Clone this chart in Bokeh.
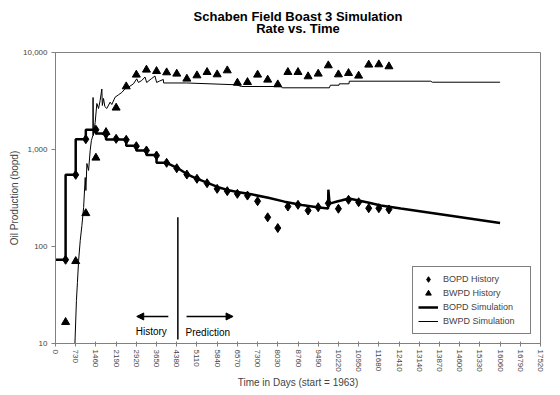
import math
from bokeh.plotting import figure
from bokeh.models import (FixedTicker, NumeralTickFormatter, Legend, LegendItem,
                          Label, Arrow, NormalHead, ColumnDataSource)
from bokeh.core.properties import value
from bokeh.embed import file_html
from bokeh.resources import INLINE

# ---------------- data ----------------
hist_days = [365, 730, 1095, 1460, 1825, 2190, 2555, 2920, 3285, 3650, 4015,
             4380, 4745, 5110, 5475, 5840, 6205, 6570, 6935, 7300, 7665, 8030,
             8395, 8760, 9125, 9490, 9855, 10220, 10585, 10950, 11315, 11680, 12045]
bopd_hist = [73, 548, 1277, 1596, 1440, 1288, 1259, 1082, 977, 867, 729,
             641, 552, 499, 449, 393, 372, 349, 335, 293, 200, 155,
             258, 269, 235, 254, 279, 245, 303, 286, 248, 248, 241]
bwpd_hist = [16.6, 70.5, 220, 821, 1507, 2692, 4460, 5890, 6630, 6410, 6220,
             6030, 5355, 5790, 6270, 5930, 6520, 4865, 4940, 5890, 5230, 4677,
             6270, 6270, 5660, 6030, 7345, 5930, 6120, 5750, 7470, 7525, 7175]

bopd_sim_days = [0, 365, 365, 730, 730, 1095, 1095, 1460, 1460, 1825, 1825, 2555,
                 2555, 2920, 2920, 3285, 3285, 3650, 3650, 4015, 4410, 4770, 5130,
                 5490, 5875, 6210, 6570, 7074, 7686, 8273, 8900, 9450, 9846, 9857,
                 9900, 10170, 10314, 10602, 11286, 11754, 12474, 14274, 16060]
bopd_sim = [73, 73, 548, 548, 1277, 1277, 1596, 1596, 1462, 1462, 1270, 1270,
            1096, 1096, 977, 977, 880, 880, 730, 730, 644, 552, 497,
            452, 409, 382, 365, 345, 318, 290, 268, 254, 247, 385,
            277, 291, 298, 313, 284, 265, 247, 208, 175]

bwpd_sim_days = [702, 756, 792, 835, 893, 954, 1015, 1073, 1098, 1134, 1195, 1253,
                 1296, 1350, 1357, 1368, 1433, 1494, 1555, 1613, 1674, 1692, 1735,
                 1782, 1854, 1973, 2034, 2153, 2275, 2394, 2513, 2635, 2815, 2934,
                 2995, 3114, 3233, 3294, 3474, 3593, 3654, 3762, 3895, 3906, 4734,
                 6534, 6714, 8154, 8190, 9893, 9929, 10242, 10253, 10602, 10613,
                 13554, 13615, 16060]
bwpd_sim = [10, 27.7, 42.5, 71.8, 115, 165, 252, 514, 378, 717, 608, 977,
            1238, 1394, 3436, 1394, 1897, 2980, 2648, 3200, 4205, 2844, 3357,
            2775, 2648, 3076, 2911, 3460, 3664, 3870, 4227, 4389, 4755, 5355,
            4909, 5142, 5590, 4909, 5395, 5724, 4909, 5085, 5270, 4851, 4851,
            4646, 4460, 4460, 4325, 4325, 4600, 4600, 4755, 4755, 5060,
            5060, 4940, 4940]

x_ticks = [0, 730, 1460, 2190, 2920, 3650, 4380, 5110, 5840, 6570, 7300, 8030,
           8760, 9490, 10220, 10950, 11680, 12410, 13140, 13870, 14600, 15330,
           16060, 16790, 17520]
y_ticks = [10, 100, 1000, 10000]

# history / prediction marker
divider_x = [4420]
divider_y0 = [11]
divider_y1 = [200]
arrow_x_start = [4075, 4734]
arrow_x_end = [2934, 6415]
arrow_y = [19, 19]
note_x = [2898, 4698]
note_y = [13.3, 13.0]
note_text = ["History", "Prediction"]

title_lines = ["Schaben Field Boast 3 Simulation", "Rate vs. Time"]

# ---------------- figure ----------------
FONT = "Liberation Sans"
GREY = "#808080"
X_MIN, X_MAX = 0, 17520
Y_MIN, Y_MAX = 10, 10000

p = figure(width=560, height=395, y_axis_type="log",
           x_range=(X_MIN, X_MAX), y_range=(Y_MIN, Y_MAX),
           output_backend="svg", toolbar_location=None,
           min_border_left=55, min_border_right=20,
           min_border_top=52, min_border_bottom=52)
p.xgrid.visible = False
p.ygrid.visible = False
p.outline_line_color = GREY
p.outline_line_width = 1
p.background_fill_color = "white"
p.border_fill_color = "white"

# two-line title, centred over the plot area (drawn in the top border panel)
x_mid = (X_MIN + X_MAX) / 2
decade_px = (395 - 52 - 52) / 3.0
for line, px_above in zip(title_lines, [36, 24]):
    p.add_layout(Label(x=x_mid, y=Y_MAX * 10 ** (px_above / decade_px),
                       text=line, text_align="center", text_baseline="middle",
                       text_font=FONT, text_font_size="13px",
                       text_font_style="bold", text_color="black"), "above")

xa = p.xaxis[0]
xa.ticker = FixedTicker(ticks=x_ticks, minor_ticks=[])
xa.major_label_orientation = -math.pi / 2
xa.major_label_text_font = FONT
xa.major_label_text_font_size = "8px"
xa.major_label_standoff = 3
xa.axis_line_color = GREY
xa.major_tick_line_color = GREY
xa.major_tick_in = 2
xa.major_tick_out = 3
xa.minor_tick_line_color = None
xa.axis_label = "Time in Days (start = 1963)"
xa.axis_label_text_font = FONT
xa.axis_label_text_font_size = "10px"
xa.axis_label_text_font_style = "normal"
xa.axis_label_standoff = 2

ya = p.yaxis[0]
ya.ticker = FixedTicker(ticks=y_ticks, minor_ticks=[])
ya.formatter = NumeralTickFormatter(format="0,0")
ya.major_label_text_font = FONT
ya.major_label_text_font_size = "8px"
ya.major_label_standoff = 4
ya.axis_line_color = GREY
ya.major_tick_line_color = GREY
ya.major_tick_in = 0
ya.major_tick_out = 4
ya.minor_tick_line_color = None
ya.axis_label = "Oil Production (bopd)"
ya.axis_label_text_font = FONT
ya.axis_label_text_font_size = "10px"
ya.axis_label_text_font_style = "normal"
ya.axis_label_standoff = 0

# lines
r_wsim = p.line(bwpd_sim_days, bwpd_sim, line_color="black", line_width=1)
r_osim = p.line(bopd_sim_days, bopd_sim, line_color="black", line_width=2.5)

# markers
r_ohist = p.scatter(hist_days, bopd_hist, marker="diamond", size=9,
                    fill_color="black", line_color="black")
r_whist = p.scatter(hist_days, bwpd_hist, marker="triangle", size=8,
                    fill_color="black", line_color="black")

# history / prediction divider
p.segment(x0=divider_x, y0=divider_y0, x1=divider_x, y1=divider_y1,
          line_color="black", line_width=1.5)
arrow_src = ColumnDataSource(dict(xs=arrow_x_start, xe=arrow_x_end, y=arrow_y))
p.add_layout(Arrow(end=NormalHead(size=7, fill_color="black", line_color="black"),
                   x_start="xs", y_start="y", x_end="xe", y_end="y",
                   source=arrow_src, line_color="black", line_width=1.5))
p.text(x=note_x, y=note_y, text=note_text, text_font=value(FONT),
       text_font_size=value("10px"), text_baseline="middle", text_align="left",
       text_color="black")

legend = Legend(items=[
    LegendItem(label="BOPD History", renderers=[r_ohist]),
    LegendItem(label="BWPD History", renderers=[r_whist]),
    LegendItem(label="BOPD Simulation", renderers=[r_osim]),
    LegendItem(label="BWPD Simulation", renderers=[r_wsim]),
], location="bottom_right")
legend.margin = 9
legend.padding = 5
legend.spacing = 0
legend.glyph_height = 14
legend.label_height = 14
legend.glyph_width = 20
legend.label_standoff = 5
legend.label_width = 82
legend.label_text_font = FONT
legend.label_text_font_size = "9px"
legend.border_line_color = "black"
legend.border_line_width = 1
legend.background_fill_alpha = 1
p.add_layout(legend)

open("out.html", "w").write(file_html(p, INLINE))
